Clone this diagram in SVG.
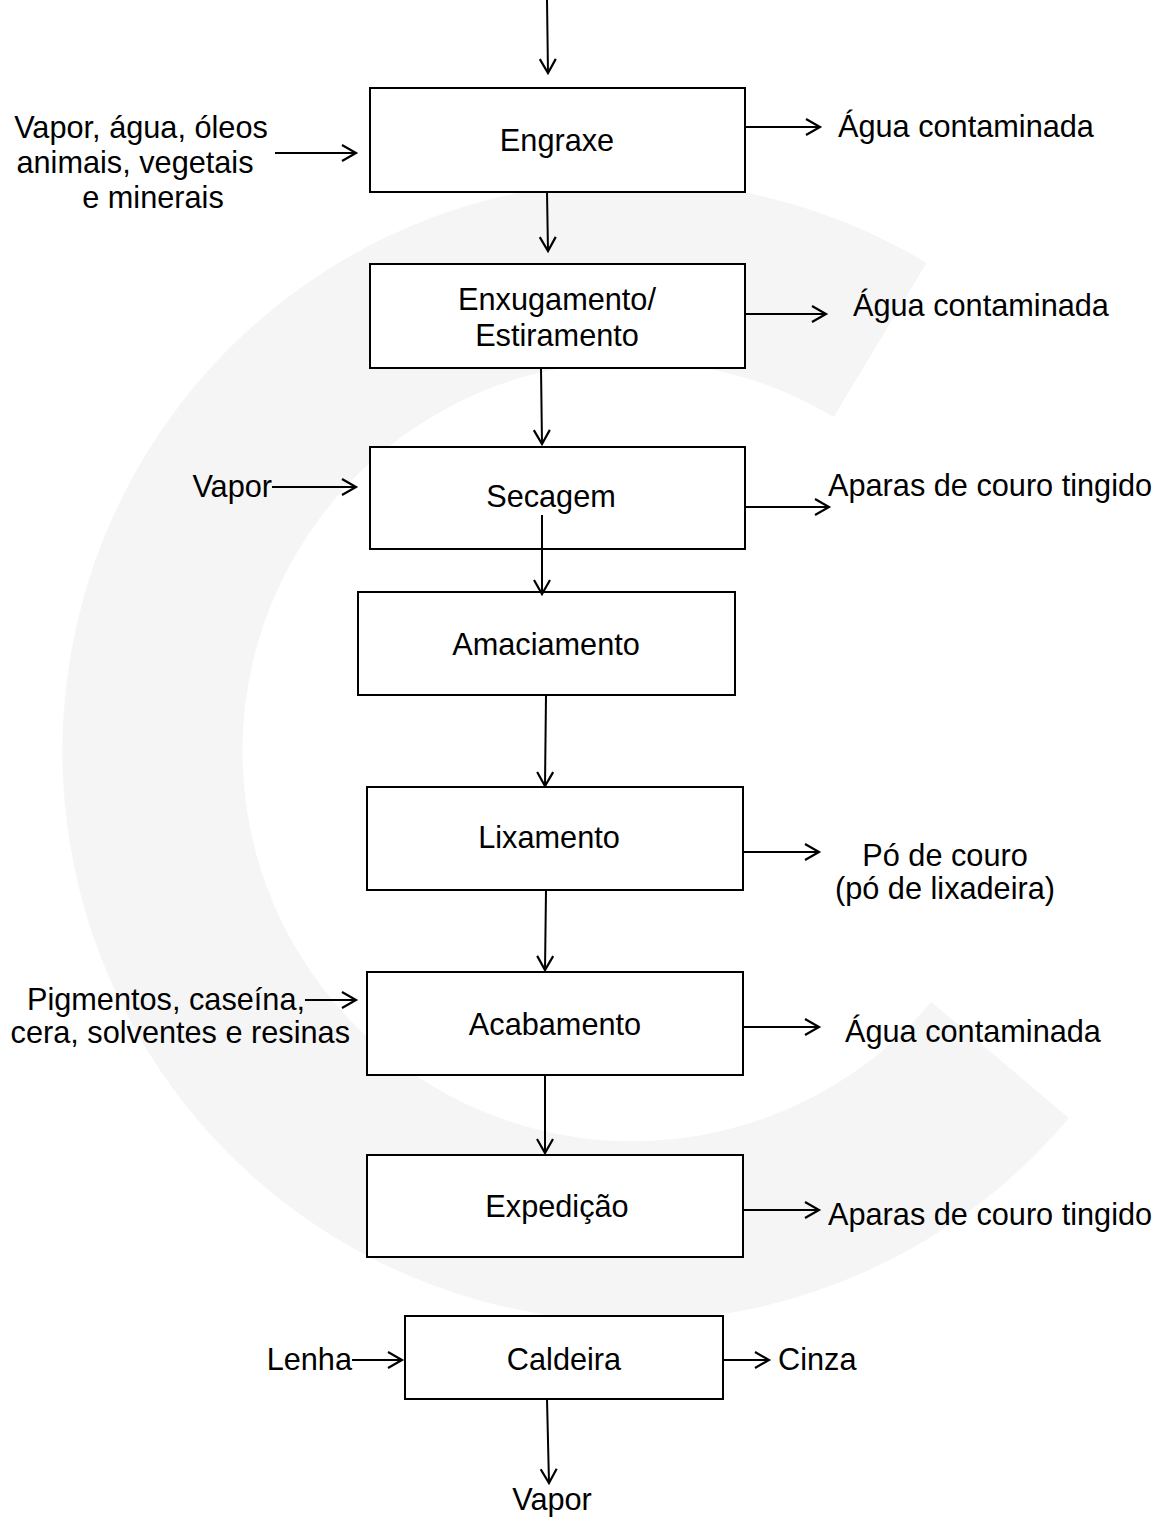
<svg xmlns="http://www.w3.org/2000/svg" width="1161" height="1517" viewBox="0 0 1161 1517">
<defs>
<style>
.box{fill:#fff;stroke:#000;stroke-width:2}
.t{font-family:"Liberation Sans",Arial,sans-serif;font-size:30.7px;fill:#000}
.c{text-anchor:middle}
.e{text-anchor:end}
.ln{stroke:#000;stroke-width:2;fill:none;marker-end:url(#ah)}
</style>
<marker id="ah" markerUnits="userSpaceOnUse" markerWidth="20" markerHeight="20" viewBox="0 0 20 20" refX="17" refY="10" orient="auto">
<path d="M3,2 L17,10 L3,18" fill="none" stroke="#000" stroke-width="2.2"/>
</marker>
</defs>
<rect width="1161" height="1517" fill="#fff"/>
<g id="watermark" opacity="0.5">
<path d="M 880 340 A 480 480 0 1 0 1000 1060" fill="none" stroke="#ececec" stroke-width="180"/>
</g>
<g id="engraxe">
<rect class="box" x="370" y="88" width="375" height="104"/>
<text class="t c" x="557" y="151">Engraxe</text>
</g>
<g id="engraxe-in">
<text class="t c" x="141" y="138">Vapor, água, óleos</text>
<text class="t c" x="135" y="173">animais, vegetais</text>
<text class="t c" x="153" y="208">e minerais</text>
</g>
<g id="engraxe-out"><text class="t" x="838" y="137">Água contaminada</text></g>
<g id="enxugamento">
<rect class="box" x="370" y="264" width="375" height="104"/>
<text class="t c" x="557" y="310">Enxugamento/</text>
<text class="t c" x="557" y="346">Estiramento</text>
</g>
<g id="enxugamento-out"><text class="t" x="853" y="316">Água contaminada</text></g>
<g id="secagem">
<rect class="box" x="370" y="447" width="375" height="102"/>
<text class="t c" x="551" y="507">Secagem</text>
</g>
<g id="secagem-in"><text class="t e" x="272" y="497">Vapor</text></g>
<g id="secagem-out"><text class="t" x="828" y="496">Aparas de couro tingido</text></g>
<g id="amaciamento">
<rect class="box" x="358" y="592" width="377" height="103"/>
<text class="t c" x="546" y="655">Amaciamento</text>
</g>
<g id="lixamento">
<rect class="box" x="367" y="787" width="376" height="103"/>
<text class="t c" x="549" y="848">Lixamento</text>
</g>
<g id="lixamento-out">
<text class="t c" x="945" y="866">Pó de couro</text>
<text class="t c" x="945" y="899">(pó de lixadeira)</text>
</g>
<g id="acabamento">
<rect class="box" x="367" y="972" width="376" height="103"/>
<text class="t c" x="555" y="1035">Acabamento</text>
</g>
<g id="acabamento-in">
<text class="t e" x="305" y="1010">Pigmentos, caseína,</text>
<text class="t e" x="350" y="1043">cera, solventes e resinas</text>
</g>
<g id="acabamento-out"><text class="t" x="845" y="1042">Água contaminada</text></g>
<g id="expedicao">
<rect class="box" x="367" y="1155" width="376" height="102"/>
<text class="t c" x="557" y="1217">Expedição</text>
</g>
<g id="expedicao-out"><text class="t" x="828" y="1225">Aparas de couro tingido</text></g>
<g id="caldeira">
<rect class="box" x="405" y="1316" width="318" height="83"/>
<text class="t c" x="564" y="1370">Caldeira</text>
</g>
<g id="caldeira-in"><text class="t e" x="352" y="1370">Lenha</text></g>
<g id="caldeira-out"><text class="t" x="778" y="1370">Cinza</text></g>
<g id="caldeira-vapor"><text class="t c" x="552" y="1510">Vapor</text></g>
<g id="connectors">
<line class="ln" x1="547" y1="0" x2="548" y2="73"/>
<line class="ln" x1="275" y1="153" x2="356" y2="153"/>
<line class="ln" x1="745" y1="127" x2="820" y2="127"/>
<line class="ln" x1="547" y1="192" x2="548" y2="251"/>
<line class="ln" x1="745" y1="314" x2="826" y2="314"/>
<line class="ln" x1="541" y1="368" x2="542" y2="444"/>
<line class="ln" x1="272" y1="487" x2="356" y2="487"/>
<line class="ln" x1="745" y1="507" x2="829" y2="507"/>
<line class="ln" x1="542" y1="515" x2="542" y2="594"/>
<line class="ln" x1="546" y1="695" x2="545" y2="786"/>
<line class="ln" x1="743" y1="852" x2="819" y2="852"/>
<line class="ln" x1="546" y1="890" x2="545" y2="970"/>
<line class="ln" x1="305" y1="1000" x2="356" y2="1000"/>
<line class="ln" x1="743" y1="1027" x2="819" y2="1027"/>
<line class="ln" x1="545" y1="1075" x2="545" y2="1153"/>
<line class="ln" x1="743" y1="1210" x2="819" y2="1210"/>
<line class="ln" x1="352" y1="1360" x2="402" y2="1360"/>
<line class="ln" x1="723" y1="1360" x2="769" y2="1360"/>
<line class="ln" x1="547" y1="1399" x2="549" y2="1483"/>
</g>
</svg>
